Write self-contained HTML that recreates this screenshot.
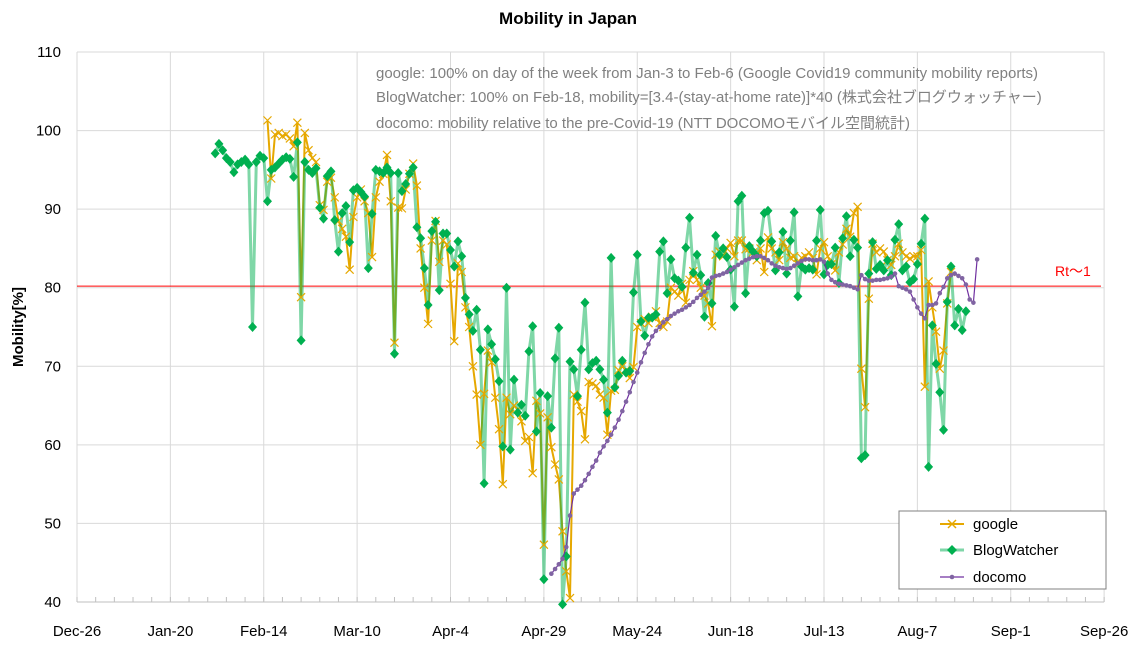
<!DOCTYPE html>
<html><head><meta charset="utf-8">
<style>
html,body{margin:0;padding:0;background:#fff;}
body{width:1140px;height:655px;overflow:hidden;font-family:"Liberation Sans","Noto Sans CJK JP",sans-serif;}
svg{display:block}
</style></head>
<body>
<svg id="chart" width="1140" height="655" viewBox="0 0 1140 655" xmlns="http://www.w3.org/2000/svg">
<text x="568" y="24" text-anchor="middle" font-size="17" font-weight="bold" font-family="Liberation Sans, sans-serif">Mobility in Japan</text>
<text transform="translate(23,327) rotate(-90)" text-anchor="middle" font-size="15" font-weight="bold" font-family="Liberation Sans, sans-serif">Mobility[%]</text>
<g id="grid"></g>
<g id="series"></g>
<g font-size="15" fill="#808080" font-family="Liberation Sans, Noto Sans CJK JP, sans-serif">
<text x="376" y="78">google: 100% on day of the week from Jan-3 to Feb-6 (Google Covid19 community mobility reports)</text>
<text x="376" y="102">BlogWatcher: 100% on Feb-18, mobility=[3.4-(stay-at-home rate)]*40 (株式会社ブログウォッチャー)</text>
<text x="376" y="128">docomo: mobility relative to the pre-Covid-19 (NTT DOCOMOモバイル空間統計)</text>
</g>
<g>
<rect x="899" y="511" width="207" height="78" fill="#fff" stroke="#808080" stroke-width="1"/>
<g>
<line x1="940" y1="524" x2="964" y2="524" stroke="#E6A800" stroke-width="2"/>
<path d="M948,520 L956,528 M948,528 L956,520" stroke="#E6A800" stroke-width="1.5"/>
<text x="973" y="529" font-size="15" font-family="Liberation Sans, sans-serif">google</text></g>
<g>
<line x1="940" y1="550" x2="964" y2="550" stroke="#7fd6a8" stroke-width="3"/>
<path d="M952,545 L957,550 L952,555 L947,550Z" fill="#00B050"/>
<text x="973" y="555" font-size="15" font-family="Liberation Sans, sans-serif">BlogWatcher</text></g>
<g>
<line x1="940" y1="577" x2="964" y2="577" stroke="#7030A0" stroke-width="1.2"/>
<circle cx="952" cy="577" r="2.3" fill="#8064A2"/>
<text x="973" y="582" font-size="15" font-family="Liberation Sans, sans-serif">docomo</text></g>
</g>
</svg>
<script>
// x: day index from Dec-26; y: mobility %
const xTickLabels = ["Dec-26","Jan-20","Feb-14","Mar-10","Apr-4","Apr-29","May-24","Jun-18","Jul-13","Aug-7","Sep-1","Sep-26"];
const yTicks = [40,50,60,70,80,90,100,110];
const rtValue = 80.2;
const googleStart = 51;
const googleValues = [101.3,93.9,99.5,99.7,99.3,99.5,99.0,98.0,101.0,78.8,99.7,97.5,96.5,96.0,90.5,89.9,93.5,94.0,91.5,88.5,87.5,86.5,82.3,89.0,91.5,92.5,91.0,89.5,83.9,91.5,93.5,94.5,96.9,91.0,73.0,90.2,90.1,92.5,94.5,95.8,93.0,85.0,80.0,75.4,86.0,88.5,83.3,86.0,85.5,80.5,73.2,83.1,82.0,77.5,75.0,70.0,66.4,60.0,66.5,72.0,70.5,66.0,62.0,55.0,66.0,63.9,65.0,64.5,63.0,60.5,61.0,56.4,65.6,64.0,47.3,63.5,59.7,57.5,55.6,49.0,43.9,40.5,66.4,65.5,64.3,60.7,68.0,67.8,67.5,66.4,66.0,61.3,66.9,67.0,69.5,70.0,69.5,68.5,69.9,75.0,75.5,76.0,75.5,76.3,77.0,75.5,75.0,75.7,80.0,79.5,79.0,80.5,78.1,81.0,82.1,81.0,80.0,79.0,78.0,75.1,84.2,84.6,84.0,85.0,85.7,84.0,86.0,86.0,84.9,85.0,84.5,83.5,85.0,82.0,86.4,85.0,84.5,83.5,85.8,85.0,83.8,84.0,83.0,83.8,84.0,84.5,83.8,81.7,85.0,85.8,84.0,83.0,82.2,84.5,85.5,87.5,86.5,89.5,90.3,69.7,64.8,78.6,85.6,84.5,85.0,84.6,83.5,82.9,84.0,85.6,84.5,84.0,83.7,84.0,84.0,84.8,67.4,80.8,77.5,74.4,69.7,72.0,78.0,82.0];
const blogStart = 37;
const blogValues = [97.1,98.3,97.5,96.5,96.0,94.7,95.7,96.0,96.3,95.7,75.0,96.0,96.8,96.5,91.0,95.0,95.3,95.8,96.3,96.6,96.4,94.1,98.5,73.3,96.0,95.0,94.6,95.2,90.2,88.8,94.2,94.8,88.6,84.6,89.5,90.4,85.8,92.4,92.7,92.2,91.6,82.5,89.4,95.0,94.8,94.6,95.3,94.6,71.6,94.6,92.3,93.2,94.5,95.3,87.7,86.3,82.5,77.8,87.2,88.4,79.7,86.9,86.9,84.8,82.7,85.9,84.0,78.7,76.6,74.5,77.2,72.1,55.1,74.7,72.8,70.9,68.1,59.8,80.0,59.4,68.3,64.1,65.1,63.7,71.9,75.1,61.7,66.6,42.9,66.2,62.2,71.0,74.9,39.7,45.8,70.6,69.6,66.2,72.1,78.1,69.6,70.4,70.7,69.6,68.3,64.1,83.8,67.3,68.8,70.7,69.2,69.4,79.4,84.2,75.7,73.9,76.2,76.2,76.6,84.6,85.9,79.3,83.6,81.2,80.9,80.1,85.1,88.9,81.9,84.2,81.6,76.3,80.6,78.0,86.6,84.2,85.0,83.9,82.3,77.6,91.0,91.7,79.3,85.3,84.6,84.0,86.0,89.5,89.8,85.9,82.2,84.5,87.1,81.8,86.0,89.6,78.9,82.7,82.3,82.5,82.3,86.0,89.9,81.7,82.9,83.0,85.1,80.6,86.3,89.1,84.0,86.1,85.1,58.3,58.7,81.8,85.8,82.4,82.9,82.2,83.5,81.6,86.1,88.1,82.2,82.7,80.7,81.1,83.0,85.6,88.8,57.2,75.2,70.3,66.7,61.9,78.2,82.7,75.2,77.3,74.6,77.0];
const docomoStart = 127;
const docomoValues = [43.6,44.2,44.8,45.5,47.0,51.0,53.8,54.3,54.8,55.5,56.3,57.2,58.0,59.0,59.8,60.5,61.3,62.2,63.2,64.3,65.5,66.7,68.0,69.2,70.5,71.7,72.8,73.8,74.5,75.0,75.6,76.0,76.4,76.7,77.0,77.2,77.5,77.8,78.2,78.7,79.1,79.5,80.0,81.3,81.5,81.6,81.8,82.0,82.3,82.6,82.9,83.2,83.5,83.7,83.9,84.0,84.0,83.8,83.5,83.1,82.8,82.6,82.5,82.4,82.5,82.8,83.1,83.4,83.6,83.6,83.5,83.5,83.6,83.3,81.8,81.0,80.7,80.5,80.4,80.3,80.2,80.0,79.8,81.6,81.1,80.9,80.9,81.0,81.0,81.1,81.2,81.4,81.8,80.2,80.0,79.8,79.5,78.5,77.5,76.7,76.1,77.8,77.8,78.0,79.3,80.1,81.2,81.6,81.8,81.5,81.2,80.4,78.5,78.1,83.6];

const NS="http://www.w3.org/2000/svg";
const X0=77, PXDAY=3.735, YB=602, PXU=7.857;
function xs(d){return X0+d*PXDAY;}
function ys(v){return YB-(v-40)*PXU;}
function mk(tag,attrs,parent){const e=document.createElementNS(NS,tag);for(const k in attrs)e.setAttribute(k,attrs[k]);parent.appendChild(e);return e;}
const grid=document.getElementById('grid');
const ser=document.getElementById('series');
yTicks.forEach(v=>{
  const l=mk('line',{x1:X0,x2:xs(275),y1:ys(v),y2:ys(v),stroke:v===40?'#bfbfbf':'#d9d9d9','stroke-width':1},grid);
  
  
  const t=mk('text',{x:61,y:ys(v)+5,'text-anchor':'end','font-size':15,'font-family':'Liberation Sans, sans-serif'},grid);
  t.textContent=v;
  
  
});
xTickLabels.forEach((lab,i)=>{
  const d=i*25;
  const l=mk('line',{x1:xs(d),x2:xs(d),y1:ys(110),y2:YB,stroke:'#d9d9d9','stroke-width':1},grid);
  
  
  const t=mk('text',{x:xs(d),y:636,'text-anchor':'middle','font-size':15,'font-family':'Liberation Sans, sans-serif'},grid);
  t.textContent=lab;
  
  
});
for(let d=0;d<=275;d+=5){
  const m=mk('line',{x1:xs(d),x2:xs(d),y1:YB,y2:YB-5,stroke:'#bfbfbf','stroke-width':1},grid);
  
  
}
const rt=mk('line',{x1:X0,x2:1101,y1:ys(rtValue),y2:ys(rtValue),stroke:'#FF0000','stroke-width':1},ser);


const rtl=mk('text',{x:1055,y:ys(rtValue)-10,fill:'#FF0000','font-size':14,'font-family':'Liberation Sans, Noto Sans CJK JP, sans-serif'},ser);
rtl.textContent='Rt～1';



function pts(start,vals){return vals.map((v,i)=>xs(start+i).toFixed(1)+','+ys(v).toFixed(1)).join(' ');}
const gl=mk('polyline',{points:pts(googleStart,googleValues),fill:'none',stroke:'#E6A800','stroke-width':2,'stroke-linejoin':'round'},ser);


const bl=mk('polyline',{points:pts(blogStart,blogValues),fill:'none',stroke:'rgba(0,176,80,0.5)','stroke-width':3,'stroke-linejoin':'round'},ser);


googleValues.forEach((v,i)=>{
  const x=xs(googleStart+i),y=ys(v);
  const p=mk('path',{d:`M${x-4},${y-4}L${x+4},${y+4}M${x-4},${y+4}L${x+4},${y-4}`,stroke:'#E6A800','stroke-width':1.2},ser);
  
  
});
blogValues.forEach((v,i)=>{
  const x=xs(blogStart+i),y=ys(v);
  const p=mk('path',{d:`M${x},${y-5}L${x+4.5},${y}L${x},${y+5}L${x-4.5},${y}Z`,fill:'#00B050'},ser);
  
  
});
const dl=mk('polyline',{points:pts(docomoStart,docomoValues),fill:'none',stroke:'#7030A0','stroke-width':1.2},ser);


docomoValues.forEach((v,i)=>{
  const c=mk('circle',{cx:xs(docomoStart+i),cy:ys(v),r:2.3,fill:'#8064A2'},ser);
  
  
});
</script>
</body></html>
